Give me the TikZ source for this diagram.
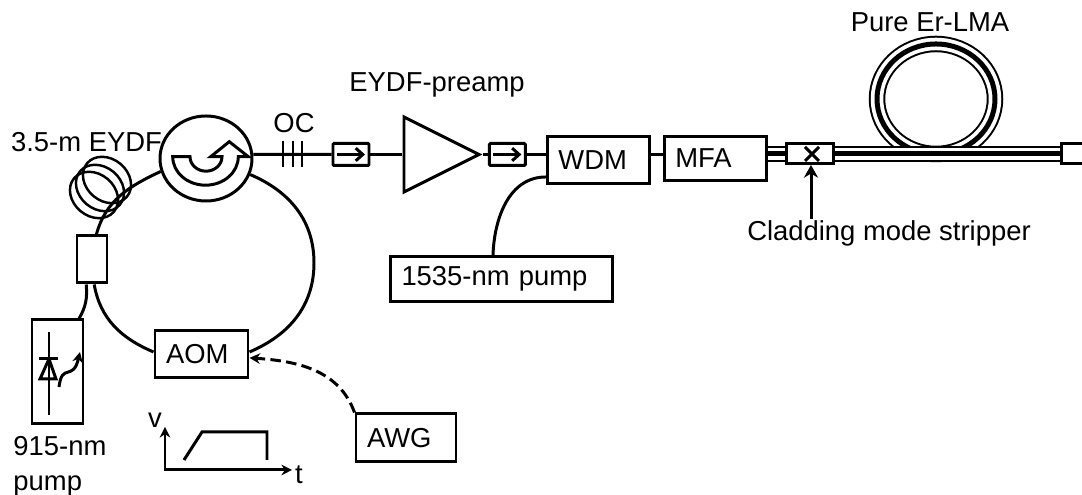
\documentclass[tikz,border=0pt]{standalone}
\usepackage{fontspec}
\setmainfont{Liberation Sans}
\usetikzlibrary{arrows.meta, positioning, calc, shapes.geometric}
\tikzset{
    fiberlaser/.style={>={Stealth[length=3pt,width=3pt]}, line width=0.85pt, font=\fontsize{7.8}{10}\selectfont},
    block/.style={draw, align=left, inner xsep=0.11cm, inner ysep=0pt},
    isolator/.style={draw, rounded corners=0.3pt, minimum width=0.36cm, minimum height=0.22cm, inner sep=0pt},
    plainbox/.style={draw, inner sep=0pt},
    preamp/.style={draw, isosceles triangle, isosceles triangle stretches, minimum width=0.75cm, minimum height=0.75cm, inner sep=0pt},
    circulator/.style={draw, ellipse, minimum width=0.92cm, minimum height=0.85cm, inner sep=0pt},
    label text/.style={inner sep=0pt},
    isoarrow/.style={-{Straight Barb[length=2pt,width=3.6pt]}},
    % large-mode fibre: thin outline, white gap, dark core
    lma/.style={line width=0.165cm, postaction={draw=white, line width=0.125cm}, postaction={draw=black, line width=0.05cm}},
}
\begin{document}
\begin{tikzpicture}[fiberlaser]
    \useasboundingbox (0,0) rectangle (10.82,-4.95);

    % oscillator ring
    \node[circulator]                                   (circ)     at (2.06,-1.585) {};
    \node[plainbox, minimum width=0.30cm, minimum height=0.47cm] (coupler) at (0.92,-2.595) {};
    \node[block, text width=0.71cm, minimum height=0.47cm]  (aom)  at (2.015,-3.545) {AOM};
    \node[block, text width=0.78cm, minimum height=0.48cm]  (awg)  at (4.06,-4.38) {AWG};
    \node[plainbox, minimum width=0.51cm, minimum height=1.04cm] (pump915) at (0.575,-3.72) {};
    \coordinate (loopr) at (3.14,-2.63);

    \draw (circ.-20) to[out=-23, in=90] (loopr);
    \draw (loopr) to[out=-90, in=23] (aom.3);
    \draw (circ.196) to[out=205, in=75] (coupler.80);
    \draw (coupler.-85) to[out=-80, in=157] (aom.177);
    \draw (coupler.-103) to[out=-85, in=60] (pump915.68);
    \draw[->, dash pattern=on 3pt off 1.5pt] (awg.north west) to[out=110, in=-4] (aom.-4);

    % doped fibre coil
    \foreach \cx/\cy in {0.94/-1.95, 1.00/-1.88, 1.07/-1.80}
        \draw[line width=0.7pt, rotate around={-40:(\cx,\cy)}] (\cx,\cy) ellipse [x radius=0.26, y radius=0.21];

    % circulator symbol
    \draw (1.727,-1.567) -- (1.90,-1.567) arc[start angle=180, end angle=360, x radius=0.16, y radius=0.145]
        -- (2.107,-1.567) -- (2.293,-1.417) -- (2.483,-1.567) -- (2.383,-1.567)
        arc[start angle=0, end angle=-180, x radius=0.328, y radius=0.285] -- cycle;

    % laser diode
    \draw (0.49,-3.32) -- (0.49,-4.15);
    \draw (0.39,-3.59) -- (0.58,-3.59);
    \draw (0.49,-3.59) -- (0.40,-3.79) -- (0.56,-3.79) -- cycle;
    \draw[->] (0.59,-3.87) .. controls (0.62,-3.62) and (0.73,-3.82) .. (0.80,-3.52);

    % amplifier chain
    \node[isolator]                                  (iso1)   at (3.51,-1.545) {};
    \node[preamp, right=0.32cm of iso1]              (amp)    {};
    \node[isolator, right=0.05cm of amp]             (iso2)   {};
    \node[block, text width=0.80cm, minimum height=0.47cm, right=0.19cm of iso2, yshift=-0.055cm] (wdm) {WDM};
    \node[block, text width=0.80cm, minimum height=0.44cm, right=0.12cm of wdm, yshift=0.015cm]   (mfa) {MFA};
    \node[block, text width=2.00cm, minimum height=0.45cm] (pump1535) at (5.015,-2.79) {1535-nm pump};
    \node[plainbox, minimum width=0.47cm, minimum height=0.20cm] (stripper) at (8.095,-1.54) {};
    \node[plainbox, minimum width=0.30cm, minimum height=0.20cm, anchor=west] (endcap) at (10.60,-1.54) {};

    \draw (circ.5) -- (iso1.west);
    \draw (iso1.east) -- (amp.west);
    \draw (amp.apex) -- (iso2.west);
    \draw (iso2.east) -- (iso2.east -| wdm.west);
    \draw (wdm.east |- iso2) -- (mfa.west |- iso2);
    \draw ([xshift=-0.085cm]pump1535.north) to[out=88, in=180] ([yshift=-0.17cm]wdm.west);

    \draw[isoarrow] ([xshift=-0.14cm]iso1.center) -- ([xshift=0.14cm]iso1.center);
    \draw[isoarrow] ([xshift=-0.14cm]iso2.center) -- ([xshift=0.14cm]iso2.center);

    % output coupler
    \foreach \x in {2.83, 2.93, 3.02}
        \draw (\x,-1.41) -- (\x,-1.67);

    % power amplifier fibre
    \coordinate (lmacoil) at (9.36,-0.99);
    \draw[lma] (lmacoil) ellipse [x radius=0.59, y radius=0.55];
    \draw[lma] (mfa.east |- stripper) -- (stripper.west);
    \draw[lma] (stripper.east) -- (endcap.west);
    \draw ([shift={(-0.045,-0.07)}]stripper.center) -- ([shift={(0.095,0.07)}]stripper.center);
    \draw ([shift={(-0.045,0.07)}]stripper.center) -- ([shift={(0.095,-0.07)}]stripper.center);

    % pulse shape
    \coordinate (vtip) at (1.65,-4.27);
    \coordinate (ttip) at (2.92,-4.70);
    \draw[<->] (vtip) |- (ttip);
    \draw (1.84,-4.60) -- (2.02,-4.32) -- (2.67,-4.32) -- (2.67,-4.60);

    % labels
    \node[label text]             (lbleydf)  at (0.865,-1.42) {3.5-m EYDF};
    \node[label text]             (lbloc)    at (2.94,-1.23)  {OC};
    \node[label text]             (lblamp)   at (4.37,-0.85)  {EYDF-preamp};
    \node[label text]             (lbler)    at (9.30,-0.22)  {Pure Er-LMA};
    \node[label text]             (lblcms)   at (8.89,-2.33)  {Cladding mode stripper};
    \node[label text, align=left, anchor=north west] (lbl915) at (0.12,-4.35) {915-nm\\pump};
    \node[label text]             (lblv)     at (1.55,-4.20)  {v};
    \node[label text]             (lblt)     at (2.99,-4.75)  {t};
    \draw[-{Stealth[length=3.6pt,width=4pt]}] (lblcms.north -| 8.11,0) -- (8.11,-1.65);
\end{tikzpicture}
\end{document}
